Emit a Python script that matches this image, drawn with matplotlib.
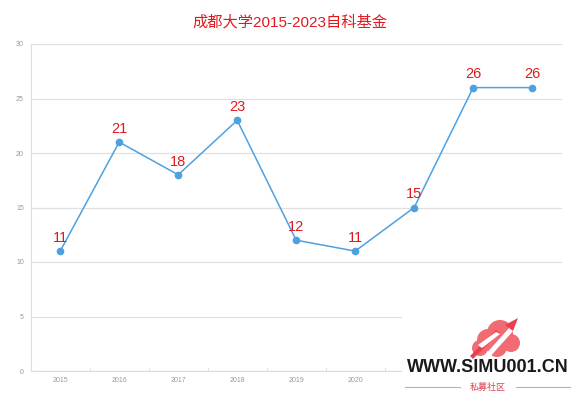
import matplotlib
matplotlib.use("Agg")
import matplotlib.pyplot as plt
from matplotlib.patches import Rectangle, Circle, Polygon

years = ["2015", "2016", "2017", "2018", "2019", "2020", "2021", "2022", "2023"]
counts = [11, 21, 18, 23, 12, 11, 15, 26, 26]
yticks = [0, 5, 10, 15, 20, 25, 30]

plt.rcParams["font.family"] = ["Liberation Sans", "Noto Sans CJK SC", "DejaVu Sans"]

fig = plt.figure(figsize=(5.8, 3.98), dpi=100)
ax = fig.add_axes([30.7 / 580, 27 / 398, 531 / 580, 327 / 398])

x = list(range(len(years)))
ax.plot(x, counts, color="#4ea1e0", linewidth=1.1, marker="o", markersize=4.5, zorder=3)
for xi, v in zip(x, counts):
    ax.annotate(str(v), (xi, v), xytext=(0, 4.5), textcoords="offset points",
                ha="center", va="bottom", color="#e0191e", fontsize=10.5)

ax.set_xlim(-0.5, len(years) - 0.5)
ax.set_ylim(0, 30)
ax.set_yticks(yticks)
ax.set_yticklabels([str(t) for t in yticks])
ax.set_xticks(x)
ax.set_xticklabels(years)
ax.set_xticks([i + 0.5 for i in range(len(years) - 1)], minor=True)
ax.grid(axis="y", color="#e0e0e0", linewidth=0.9)
ax.set_axisbelow(True)
for s in ["top", "right"]:
    ax.spines[s].set_visible(False)
ax.spines["left"].set_color("#dddddd")
ax.spines["bottom"].set_color("#dddddd")
ax.tick_params(axis="both", which="major", length=0, labelsize=5, labelcolor="#999999", pad=4)
ax.tick_params(axis="y", pad=5)
ax.tick_params(axis="x", which="minor", length=3, color="#dddddd", direction="in")

fig.text(0.5, 1 - 22 / 398, "成都大学2015-2023自科基金", ha="center", va="center",
         color="#e0191e", fontsize=11)

# watermark in the lower right corner
fig.patches.append(Rectangle((402 / 580, 0), 178 / 580, 88 / 398, transform=fig.transFigure,
                             facecolor="white", edgecolor="none", zorder=5))
wm = fig.add_axes([402 / 580, 0, 178 / 580, 88 / 398], zorder=6)
wm.set_xlim(402, 580)
wm.set_ylim(398, 310)
wm.axis("off")
for cx, cy, r in [(488, 340, 11), (500, 333, 13), (511, 343, 9), (480, 348, 8), (497, 347, 10)]:
    wm.add_patch(Circle((cx, cy), r, facecolor="#f26b72", edgecolor="none"))
wm.add_patch(Polygon([[470, 356], [496, 330], [499, 333], [473, 359]], facecolor="#e8414d"))
wm.add_patch(Polygon([[484, 356], [510, 327], [514, 330], [488, 359]], facecolor="white"))
wm.add_patch(Polygon([[505, 325], [518, 318], [513, 331]], facecolor="#e8414d"))
wm.add_patch(Polygon([[478, 345], [496, 332], [500, 334], [482, 348]], facecolor="white"))
wm.text(488, 367, "WWW.SIMU001.CN", ha="center", va="center", fontsize=13,
        fontweight="bold", color="#1a1a1a")
wm.text(488, 387, "私募社区", ha="center", va="center", fontsize=6.5, color="#d9454f")
wm.plot([405, 460], [387, 387], color="#e6a0a5", linewidth=0.8)
wm.plot([516, 570], [387, 387], color="#e6a0a5", linewidth=0.8)

fig.savefig("out.png", dpi=100)
